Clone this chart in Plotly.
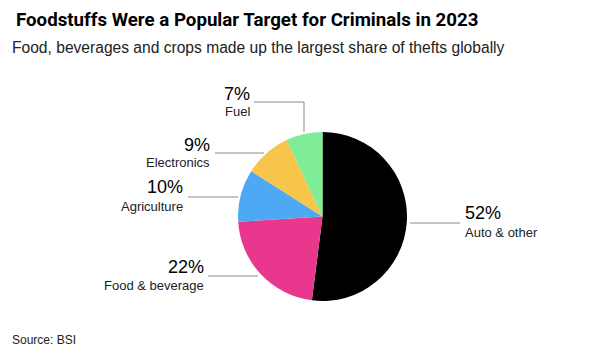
import plotly.graph_objects as go

categories = ["Auto & other", "Food & beverage", "Agriculture", "Electronics", "Fuel"]
shares = [52, 22, 10, 9, 7]
colors = ["#000000", "#E8378C", "#4EA9F5", "#F7C54A", "#7FEC98"]

W, H = 600, 359
cx, cy, r = 322.5, 216.5, 84.5

def px(x, y):
    return x / W, 1 - y / H

fig = go.Figure(go.Pie(
    labels=categories, values=shares, sort=False, direction="clockwise", rotation=0,
    marker=dict(colors=colors, line=dict(width=0)), textinfo="none", hoverinfo="label+percent",
    domain=dict(x=[(cx - r) / W, (cx + r) / W], y=[(H - cy - r) / H, (H - cy + r) / H]),
    showlegend=False,
))

# label layout: (pct anchor x, pct y, name y, xanchor, line points)
label_layout = {
    "Fuel": (252, 94, 112, "right", [(254, 102), (304, 102), (304, 132)]),
    "Electronics": (212, 145, 162, "right", [(215, 153), (264, 153)]),
    "Agriculture": (185, 187, 206, "right", [(188, 197), (238, 197)]),
    "Food & beverage": (206, 267, 285, "right", [(208, 276), (258, 276)]),
    "Auto & other": (463, 213, 232, "left", [(410, 223), (460, 223)]),
}

font = "Liberation Sans, Arial, Helvetica, sans-serif"
tfont = "Roboto, Liberation Sans, Arial, sans-serif"
annotations = []
shapes = []
for cat, val in zip(categories, shares):
    ax, py, ny, anchor, pts = label_layout[cat]
    x, y = px(ax, py)
    annotations.append(dict(x=x, y=y, xref="paper", yref="paper", text=f"{val}%", showarrow=False,
                            xanchor=anchor, yanchor="middle", font=dict(size=18, color="#000", family=font)))
    x, y = px(ax, ny)
    annotations.append(dict(x=x, y=y, xref="paper", yref="paper", text=cat, showarrow=False,
                            xanchor=anchor, yanchor="middle", font=dict(size=13, color="#222", family=font)))
    path = "M " + " L ".join(f"{px(a, b)[0]},{px(a, b)[1]}" for a, b in pts)
    shapes.append(dict(type="path", path=path, xref="paper", yref="paper",
                       line=dict(color="#8a8a8a", width=1)))

annotations.append(dict(x=px(14, 20)[0], y=px(14, 20)[1], xref="paper", yref="paper",
                        text="<b>Foodstuffs Were a Popular Target for Criminals in 2023</b>", showarrow=False,
                        xanchor="left", yanchor="middle", font=dict(size=18.7, color="#000", family=tfont)))
annotations.append(dict(x=px(10, 48)[0], y=px(10, 48)[1], xref="paper", yref="paper",
                        text="Food, beverages and crops made up the largest share of thefts globally", showarrow=False,
                        xanchor="left", yanchor="middle", font=dict(size=15.6, color="#222", family=font)))
annotations.append(dict(x=px(10, 340)[0], y=px(10, 340)[1], xref="paper", yref="paper",
                        text="Source: BSI", showarrow=False,
                        xanchor="left", yanchor="middle", font=dict(size=12, color="#222", family=font)))

fig.update_layout(width=W, height=H, margin=dict(l=0, r=0, t=0, b=0), paper_bgcolor="white",
                  plot_bgcolor="white", annotations=annotations, shapes=shapes)
fig.write_html("out.html", config=dict(displayModeBar=False),
               post_script="document.body.style.margin='0px';")
